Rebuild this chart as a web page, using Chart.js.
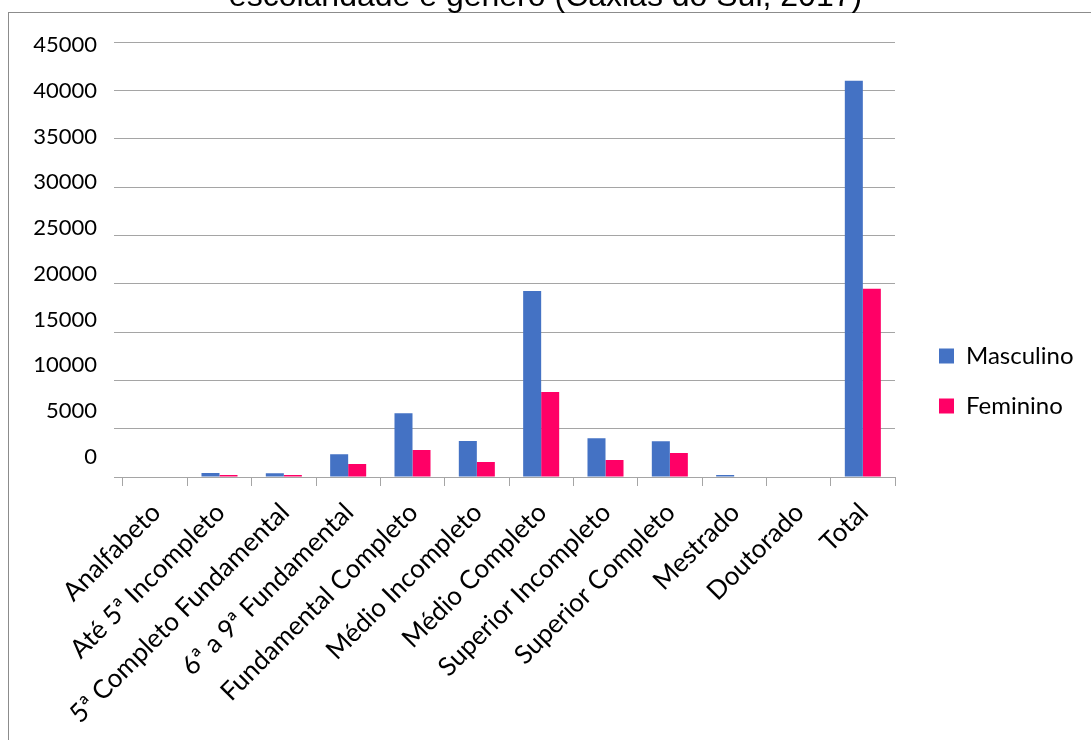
<!DOCTYPE html>
<html>
<head>
<meta charset="utf-8">
<script src="https://cdn.jsdelivr.net/npm/chart.js@4.4.1/dist/chart.umd.min.js"></script>
<style>
  body { margin: 0; background: #fff; }
  #wrap { position: relative; width: 1091px; height: 740px; overflow: hidden; }
  #frame { position: absolute; left: 8px; top: 12px; width: 1200px; height: 800px;
           border-left: 1px solid #8c8c8c; border-top: 1px solid #8c8c8c; }
  canvas { position: absolute; left: 0; top: 0; }
</style>
</head>
<body>
<div id="wrap">
  <div id="frame"></div>
  <canvas id="barchart" width="1091" height="740"></canvas>
</div>
<script>
// categories and values
const categories = [
    'Analfabeto', 'Até 5ª Incompleto', '5ª Completo Fundamental', '6ª a 9ª Fundamental',
    'Fundamental Completo', 'Médio Incompleto', 'Médio Completo', 'Superior Incompleto',
    'Superior Completo', 'Mestrado', 'Doutorado', 'Total'
];
const masculino = [0, 410, 400, 2350, 6590, 3730, 19250, 4000, 3700, 200, 0, 41030];
const feminino  = [0, 200, 200, 1350, 2800, 1550, 8800, 1760, 2480, 0, 0, 19490];
const yTicks = [0, 5000, 10000, 15000, 20000, 25000, 30000, 35000, 40000, 45000];

// the original's tick labels drift away from their gridlines, so they get their own axis
const labelMin = -2219;
const labelMax = 45294;

// put the legend to the right of the plot and centre the title on the whole page
const placeBlocks = {
    id: 'placeBlocks',
    afterLayout(chart) {
        const lg = chart.legend;
        const pad = lg.options.labels.padding;
        const itemH = Math.max(lg.options.labels.font.size, lg.options.labels.boxHeight);
        lg.left = 939 - pad;
        lg.right = lg.left + lg.width;
        lg.top = 356 - itemH / 2 - pad;
        lg.bottom = lg.top + lg.height;

        const t = chart.titleBlock;
        t.left = 0;
        t.right = chart.width;
        t.width = chart.width;
    }
};

const ctx = document.getElementById('barchart').getContext('2d');
const chart = new Chart(ctx, {
    type: 'bar',
    data: {
        labels: categories,
        datasets: [
            {label: 'Masculino', data: masculino, backgroundColor: '#4472C4', yAxisID: 'y'},
            {label: 'Feminino', data: feminino, backgroundColor: '#FF0066', yAxisID: 'y'}
        ]
    },
    options: {
        responsive: false,
        animation: false,
        categoryPercentage: 0.56,
        barPercentage: 1.0,
        layout: {padding: {left: 0, right: 196, top: 0, bottom: 0}},
        plugins: {
            tooltip: {enabled: false},
            title: {
                display: true,
                text: 'escolaridade e gênero (Caxias do Sul, 2017)',
                color: '#000',
                font: {family: 'Liberation Sans', size: 32, weight: 'normal', lineHeight: 1.2},
                padding: {top: -22, bottom: 26}
            },
            legend: {
                position: 'chartArea',
                align: 'start',
                labels: {color: '#000', font: {family: 'Lato', size: 24}, boxWidth: 15, boxHeight: 15, padding: 26}
            }
        },
        scales: {
            y: {
                type: 'linear',
                position: 'left',
                weight: 0,
                min: 0,
                max: 45000,
                ticks: {display: false, stepSize: 5000},
                grid: {color: '#A5A5A5', lineWidth: 1, tickLength: 9},
                border: {display: false},
                afterFit: s => { s.width = 9; }
            },
            yl: {
                type: 'linear',
                position: 'left',
                weight: 1,
                min: labelMin,
                max: labelMax,
                grid: {display: false, drawTicks: false},
                border: {display: false},
                afterBuildTicks: s => { s.ticks = yTicks.map(v => ({value: v})); },
                ticks: {padding: 17, color: '#000', font: {family: 'Lato', size: 22}, callback: v => String(v)},
                afterFit: s => { s.width = 114; }
            },
            x: {
                grid: {display: true, drawOnChartArea: false, color: '#A5A5A5', tickLength: 9},
                border: {color: '#A5A5A5', width: 1},
                ticks: {
                    autoSkip: false, maxRotation: 45, minRotation: 45,
                    padding: 11, labelOffset: 1,
                    color: '#000', font: {family: 'Lato', size: 26}
                },
                afterFit: s => { s.height = 263; }
            }
        }
    },
    plugins: [placeBlocks]
});
</script>
</body>
</html>
